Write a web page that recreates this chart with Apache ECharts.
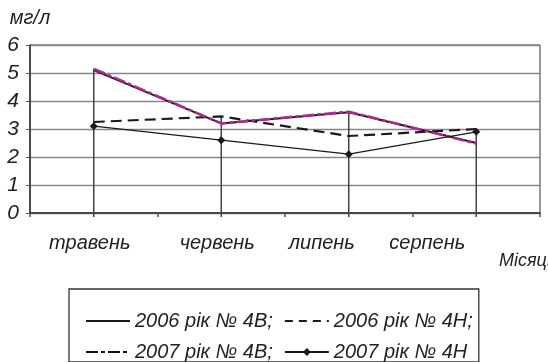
<!DOCTYPE html>
<html>
<head>
<meta charset="utf-8">
<script src="https://cdn.jsdelivr.net/npm/echarts@6/dist/echarts.min.js"></script>
<style>
html,body{margin:0;padding:0;background:#fff;}
#chart{width:548px;height:362px;}
</style>
</head>
<body>
<div id="chart"></div>
<script>
// ---- data ----
const months = ['травень', 'червень', 'липень', 'серпень'];
const yTicks = [0, 1, 2, 3, 4, 5, 6];
const s2006_4B = [5.1, 3.2, 3.6, 2.5];
const s2006_4H = [3.25, 3.45, 2.75, 3.0];
const s2007_4B = [5.15, 3.2, 3.62, 2.48];
const s2007_4H = [3.1, 2.6, 2.1, 2.9];
const seriesNames = ['2006 рік № 4В', '2006 рік № 4Н', '2007 рік № 4В', '2007 рік № 4Н'];
const yName = 'мг/л';
const xName = 'Місяць';

// label horizontal shifts (px, negative = left)
const labelShift = [-4, -4, -27, -49];

const FONT = 'Liberation Sans, Arial, sans-serif';
const dropTop = months.map((m, i) => Math.max(s2006_4B[i], s2006_4H[i], s2007_4B[i], s2007_4H[i]));

const rich = {};
labelShift.forEach((s, i) => {
  rich['m' + i] = {
    fontFamily: FONT, fontStyle: 'italic', fontSize: 20, color: '#222',
    padding: [0, s < 0 ? -2 * s : 0, 0, s > 0 ? 2 * s : 0]
  };
});

const chart = echarts.init(document.getElementById('chart'), null, {renderer: 'canvas'});
chart.setOption({
  animation: false,
  backgroundColor: '#fff',
  grid: {left: 30, right: 8, top: 45, bottom: 149, containLabel: false, outerBoundsMode: 'none',
    show: true, borderColor: '#333', borderWidth: 1, backgroundColor: 'transparent'},
  graphic: [{
    type: 'text', left: 499, top: 252,
    style: {text: xName, font: 'italic 18px ' + FONT, fill: '#222'}
  }],
  xAxis: {
    type: 'category',
    data: months,
    boundaryGap: true,
    axisLine: {lineStyle: {color: '#333', width: 1.5}},
    axisTick: {show: true, length: 4, lineStyle: {color: '#555', width: 1.5}},
    axisLabel: {
      margin: 20,
      formatter: (v, i) => '{m' + i + '|' + v + '}',
      rich: rich
    },
    splitLine: {show: false}
  },
  yAxis: {
    type: 'value',
    min: yTicks[0],
    max: yTicks[yTicks.length - 1],
    interval: 1,
    name: yName,
    nameLocation: 'end',
    nameGap: 17,
    nameTextStyle: {fontFamily: FONT, fontStyle: 'italic', fontSize: 20, color: '#222', align: 'center'},
    axisLine: {show: true, lineStyle: {color: '#333', width: 1.5}},
    axisTick: {show: true, length: 4, lineStyle: {color: '#555'}},
    axisLabel: {fontFamily: FONT, fontStyle: 'italic', fontSize: 21, color: '#222', margin: 11,
      formatter: v => yTicks.includes(v) ? String(v) : ''},
    splitLine: {show: true, lineStyle: {color: '#888', width: 1.3}}
  },
  legend: {
    left: 69,
    top: 289,
    width: 450,
    orient: 'horizontal',
    itemWidth: 44,
    itemHeight: 10,
    itemGap: 11,
    padding: [22, 6, 0, 16],
    borderColor: '#333',
    borderWidth: 1.3,
    textStyle: {fontFamily: FONT, fontStyle: 'italic', fontSize: 20, color: '#222'},
    formatter: n => n === seriesNames[3] ? n : n + ';',
    data: [
      {name: seriesNames[0], itemStyle: {opacity: 0}},
      {name: seriesNames[1], itemStyle: {opacity: 0}, lineStyle: {type: [8, 6]}},
      {name: seriesNames[2], itemStyle: {opacity: 0}, lineStyle: {color: '#111'}},
      {name: seriesNames[3]}
    ]
  },
  series: [
    {
      type: 'custom',
      silent: true,
      z: 1,
      data: dropTop.map((v, i) => [i, v]),
      renderItem: (params, api) => {
        const top = api.coord([api.value(0), api.value(1)]);
        const bot = api.coord([api.value(0), 0]);
        return {type: 'line', shape: {x1: top[0], y1: top[1], x2: bot[0], y2: bot[1] + 4},
          style: {stroke: '#444', lineWidth: 1.5}};
      }
    },
    {name: seriesNames[0], type: 'line', data: s2006_4B, symbol: 'none', z: 2,
      lineStyle: {color: '#1a1a1a', width: 2, type: 'solid'}, itemStyle: {color: '#1a1a1a'}},
    {name: seriesNames[1], type: 'line', data: s2006_4H, symbol: 'none', z: 3,
      lineStyle: {color: '#1a1a1a', width: 2.2, type: [11, 6]}, itemStyle: {color: '#1a1a1a'}},
    {name: seriesNames[2], type: 'line', data: s2007_4B, symbol: 'none', z: 4,
      lineStyle: {color: '#b0288c', width: 2.5, type: [12, 3, 4, 3]}, itemStyle: {color: '#b0288c'}},
    {name: seriesNames[3], type: 'line', data: s2007_4H, symbol: 'diamond', symbolSize: 8, z: 5,
      lineStyle: {color: '#1a1a1a', width: 1.3}, itemStyle: {color: '#1a1a1a'}}
  ]
});
</script>
</body>
</html>
